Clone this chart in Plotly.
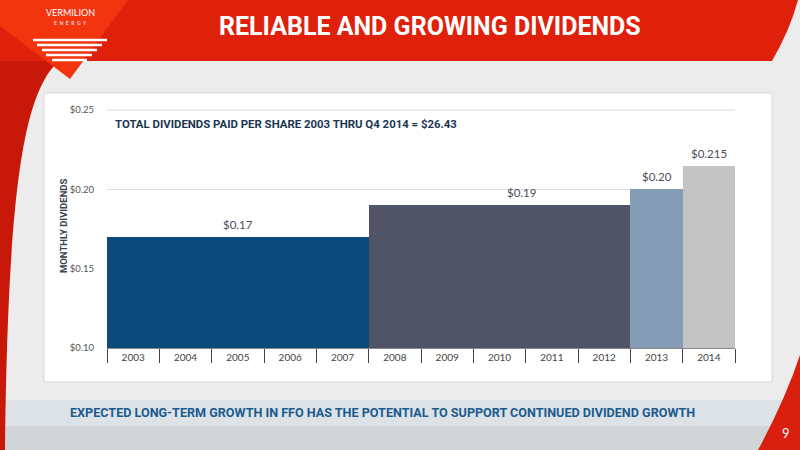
import plotly.graph_objects as go

# ---- data -------------------------------------------------------------
years = ["2003", "2004", "2005", "2006", "2007", "2008",
         "2009", "2010", "2011", "2012", "2013", "2014"]
dividends = [0.17, 0.17, 0.17, 0.17, 0.17, 0.19,
             0.19, 0.19, 0.19, 0.19, 0.20, 0.215]
bar_colors = ["#0b4b7c"] * 5 + ["#515467"] * 5 + ["#849cb6", "#c4c4c4"]

# value labels: (year it sits over, value, text)
label_years = ["2005", "2010", "2013", "2014"]
label_values = [0.17, 0.19, 0.20, 0.215]
label_texts = ["$0.17", "$0.19", "$0.20", "$0.215"]
label_xshift = [0, 22, 0, 0]

y_ticks = [0.10, 0.15, 0.20, 0.25]
y_ticktext = ["$0.10", "$0.15", "$0.20", "$0.25"]

TITLE = "RELIABLE AND GROWING DIVIDENDS"
SUBTITLE = "TOTAL DIVIDENDS PAID PER SHARE 2003 THRU Q4 2014 = $26.43"
FOOTER = "EXPECTED LONG-TERM GROWTH IN FFO HAS THE POTENTIAL TO SUPPORT CONTINUED DIVIDEND GROWTH"

# ---- page geometry (pixels) -------------------------------------------
W, H = 800, 450
L, R, T, B = 107, 735, 110, 348  # plot area edges

HEAD = "Roboto, Liberation Sans, sans-serif"
BODY = "Lato, Open Sans, sans-serif"


def px(x):
    return (x - L) / (R - L)


def py(y):
    return (B - y) / (B - T)


def rect(x0, y0, x1, y1, fill, line=None, layer="below"):
    return dict(type="rect", xref="paper", yref="paper",
                x0=px(x0), x1=px(x1), y0=py(y1), y1=py(y0),
                fillcolor=fill, line=dict(width=1 if line else 0, color=line or fill),
                layer=layer)


def path(cmds, fill, layer="below"):
    # cmds: list of (letter, [x, y, x, y, ...]) in pixels
    parts = []
    for c, pts in cmds:
        if c == "Z":
            parts.append("Z")
            continue
        xy = []
        for i in range(0, len(pts), 2):
            xy.append(f"{px(pts[i]):.4f},{py(pts[i + 1]):.4f}")
        parts.append(c + " " + " ".join(xy))
    return dict(type="path", xref="paper", yref="paper", path=" ".join(parts),
                fillcolor=fill, line=dict(width=0), layer=layer)


def hline(x0, x1, y, color, width, layer="above"):
    return dict(type="line", xref="paper", yref="paper",
                x0=px(x0), x1=px(x1), y0=py(y), y1=py(y),
                line=dict(color=color, width=width), layer=layer)


shapes = [
    # bottom bands
    rect(0, 400, 800, 426, "#dde2e6"),
    rect(0, 426, 800, 450, "#d2d5d8"),
    # left red swoosh
    path([("M", [0, 0]), ("L", [90, 0]), ("L", [60, 60]),
          ("C", [25, 90, 8, 180, 5, 450]), ("L", [0, 450]), ("Z", [])], "#c8180a"),
    # right-bottom red swoosh
    path([("M", [800, 355]), ("Q", [785, 400, 758, 450]), ("L", [800, 450]), ("Z", [])],
         "#d81e0c"),
    # top banner
    path([("M", [0, 0]), ("L", [798, 0]), ("Q", [790, 30, 772, 61]),
          ("L", [0, 61]), ("Z", [])], "#df200b"),
    # logo triangle
    path([("M", [0, 0]), ("L", [128, 0]), ("L", [70, 79]), ("L", [0, 26]), ("Z", [])],
         "#f2340f"),
    # chart card
    rect(44, 93, 772, 382, "#ffffff", line="#d6d6d6"),
    # top gridline ($0.25) sits on the plot edge, draw it explicitly
    hline(L, R, T, "#dcdcdc", 1, layer="below"),
]

# logo stripes
for y, x0, x1 in [(40, 33, 107), (45, 37, 102), (50, 42, 97), (55, 46, 92), (60, 52, 87)]:
    shapes.append(hline(x0, x1, y, "white", 2.6))

fig = go.Figure()
fig.add_trace(go.Bar(
    x=years,
    y=[v - 0.10 for v in dividends],
    base=0.10,
    marker=dict(color=bar_colors, line=dict(width=0)),
    hoverinfo="skip",
    showlegend=False,
))

annotations = []
for yr, v, t, dx in zip(label_years, label_values, label_texts, label_xshift):
    annotations.append(dict(x=years.index(yr), y=v, text=t, showarrow=False,
                            yanchor="bottom", yshift=4, xshift=dx,
                            font=dict(family=BODY, size=11.5, color="#4a4d5a")))

annotations += [
    dict(xref="paper", yref="paper", x=px(113), y=py(124), text="<b>" + SUBTITLE + "</b>",
         showarrow=False, xanchor="left", yanchor="middle",
         font=dict(family=HEAD, size=11.4, color="#1c3652")),
    dict(xref="paper", yref="paper", x=px(63), y=py(226), text="<b>MONTHLY DIVIDENDS</b>",
         showarrow=False, textangle=-90, xanchor="center", yanchor="middle",
         font=dict(family=HEAD, size=9.5, color="#3a4250")),
    dict(xref="paper", yref="paper", x=px(430), y=py(27), text="<b>" + TITLE + "</b>",
         showarrow=False, xanchor="center", yanchor="middle",
         font=dict(family=HEAD, size=25, color="white")),
    dict(xref="paper", yref="paper", x=px(382), y=py(412), text="<b>" + FOOTER + "</b>",
         showarrow=False, xanchor="center", yanchor="middle",
         font=dict(family=HEAD, size=12.6, color="#1b5a8e")),
    dict(xref="paper", yref="paper", x=px(70), y=py(13), text="VERMILION",
         showarrow=False, xanchor="center", yanchor="middle",
         font=dict(family=BODY, size=9, color="white")),
    dict(xref="paper", yref="paper", x=px(70), y=py(23), text="E  N  E  R  G  Y",
         showarrow=False, xanchor="center", yanchor="middle",
         font=dict(family=BODY, size=5, color="white")),
    dict(xref="paper", yref="paper", x=px(786), y=py(433), text="9",
         showarrow=False, xanchor="center", yanchor="middle",
         font=dict(family=BODY, size=13, color="white")),
]

fig.update_layout(
    width=W, height=H,
    margin=dict(l=L, r=W - R, t=T, b=H - B),
    paper_bgcolor="#ececec",
    plot_bgcolor="rgba(0,0,0,0)",
    bargap=0,
    shapes=shapes,
    annotations=annotations,
    xaxis=dict(
        type="category",
        range=[-0.5, len(years) - 0.5],
        tickson="boundaries",
        ticks="outside",
        ticklen=14,
        tickwidth=1.3,
        tickcolor="#444444",
        showline=True,
        linecolor="#888888",
        linewidth=1,
        showgrid=False,
        tickfont=dict(family=BODY, size=10, color="#444444"),
        fixedrange=True,
    ),
    yaxis=dict(
        range=[0.10, 0.25],
        tickvals=y_ticks,
        ticktext=y_ticktext,
        showgrid=True,
        gridcolor="#dcdcdc",
        gridwidth=1,
        zeroline=False,
        ticks="",
        ticklabelstandoff=12,
        tickfont=dict(family=BODY, size=9.5, color="#555555"),
        fixedrange=True,
    ),
)

# drop the default body margin so the slide fills the window exactly
fig.write_html("out.html", config={"displayModeBar": False},
               post_script="document.body.style.margin='0px';")
